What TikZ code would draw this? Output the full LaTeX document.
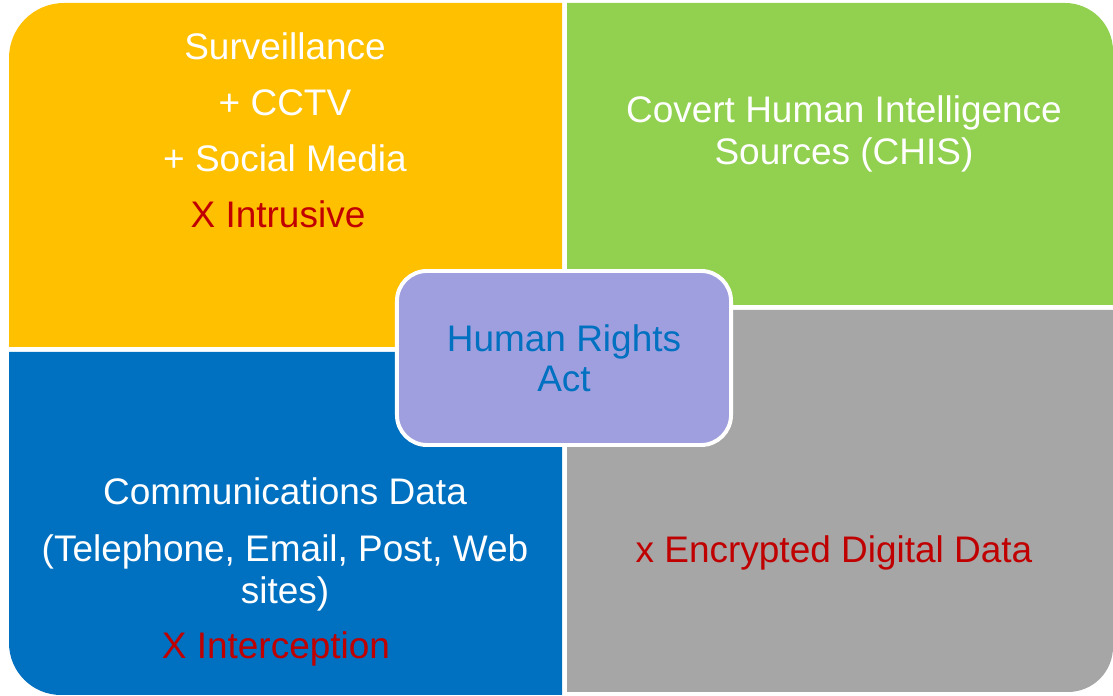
\documentclass[tikz,border=0pt]{standalone}
\usepackage{fontspec}
\setmainfont{Liberation Sans}
\usetikzlibrary{positioning}

\definecolor{survorange}{HTML}{FFC000}
\definecolor{chisgreen}{HTML}{92D050}
\definecolor{commsblue}{HTML}{0070C0}
\definecolor{cryptgray}{HTML}{A6A6A6}
\definecolor{hrapurple}{HTML}{9F9FDF}
\definecolor{warnred}{HTML}{C00000}

\tikzset{
  quadtext/.style={text=white, align=center, inner sep=0pt,
    font=\fontsize{26.3}{39.8}\selectfont},
  hrabox/.style={draw=white, line width=2.8pt, fill=hrapurple,
    rounded corners=0.75cm, minimum width=8.35cm, minimum height=4.35cm,
    text=commsblue, align=center, font=\fontsize{26.3}{28.5}\selectfont}
}

\begin{document}
\begin{tikzpicture}[x=0.025cm,y=0.025cm]
  \useasboundingbox (0,0) rectangle (1113,696);

  % the four quarters, each rounded at its outer corner
  \fill[survorange] (9,349) -- (9,638) arc[start angle=180,end angle=90,radius=55]
    -- (562,693) -- (562,349) -- cycle;
  \fill[chisgreen] (567,391) -- (567,693) -- (1065,693)
    arc[start angle=90,end angle=0,radius=48] -- (1113,391) -- cycle;
  \fill[cryptgray] (567,386) -- (1113,386) -- (1113,49)
    arc[start angle=0,end angle=-90,radius=45] -- (567,4) -- cycle;
  \fill[commsblue] (562,344) -- (9,344) -- (9,53)
    arc[start angle=180,end angle=270,radius=52] -- (562,1) -- cycle;

  % texts of the quarters
  \node[quadtext] (surv) at (285,566) {Surveillance\\+ CCTV\\+ Social Media\\
    \textcolor{warnred}{X Intrusive}\hspace*{0.35cm}};
  \node[quadtext, font=\fontsize{26.3}{29.9}\selectfont] (chis) at (844,562)
    {Covert Human Intelligence\\Sources (CHIS)};
  \node[quadtext, font=\fontsize{26.3}{29.9}\selectfont] (comms) at (285,124)
    {Communications Data\\[11pt](Telephone, Email, Post, Web\\sites)\\[9pt]
    \textcolor{warnred}{X Interception}\hspace*{0.45cm}};
  \node[quadtext] (crypt) at (834,143) {\textcolor{warnred}{x Encrypted Digital Data}};

  % centre box
  \node[hrabox] (hra) at (564,338) {Human Rights\\Act};
\end{tikzpicture}
\end{document}
